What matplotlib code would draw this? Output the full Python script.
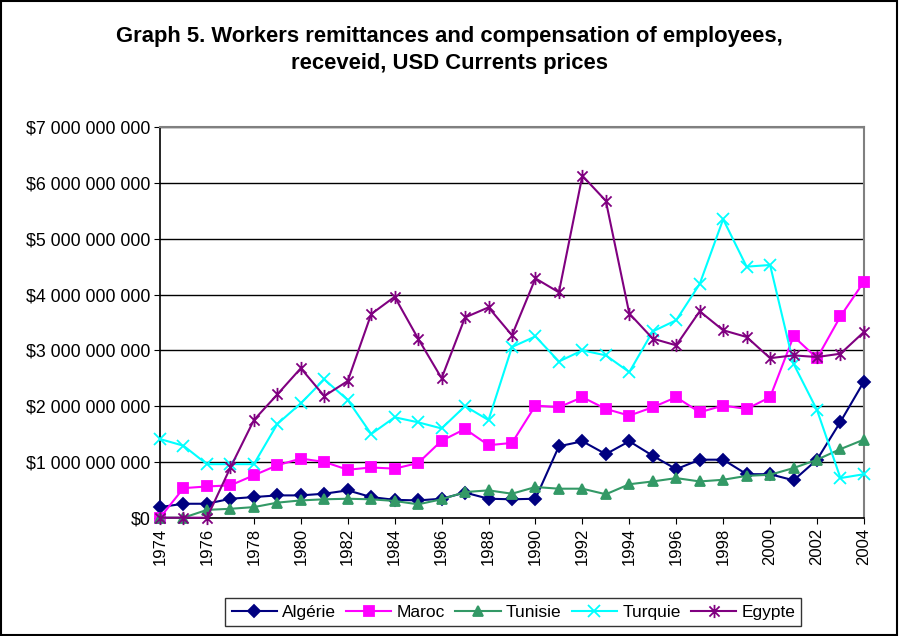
import numpy as np
import matplotlib
matplotlib.use("Agg")
import matplotlib.pyplot as plt
from matplotlib.path import Path
from matplotlib.patches import Rectangle
from matplotlib.ticker import FuncFormatter, MultipleLocator

plt.rcParams['font.family'] = ['Liberation Sans', 'DejaVu Sans']

# dados (bilhões de USD)
years = list(range(1974, 2005))

algerie = [0.19, 0.25, 0.25, 0.34, 0.37, 0.40, 0.40, 0.43, 0.49, 0.37,
           0.32, 0.31, 0.34, 0.45, 0.34, 0.33, 0.34, 1.28, 1.37, 1.14,
           1.37, 1.11, 0.87, 1.04, 1.04, 0.78, 0.78, 0.67, 1.04, 1.72, 2.44]
maroc = [0.0, 0.53, 0.56, 0.58, 0.76, 0.94, 1.06, 1.00, 0.86, 0.90,
         0.88, 0.98, 1.38, 1.59, 1.30, 1.34, 2.01, 1.98, 2.16, 1.95,
         1.83, 1.98, 2.16, 1.89, 2.01, 1.95, 2.16, 3.25, 2.86, 3.61, 4.23]
tunisie = [0.0, 0.0, 0.14, 0.16, 0.19, 0.27, 0.31, 0.33, 0.34, 0.33,
           0.30, 0.24, 0.33, 0.46, 0.49, 0.43, 0.55, 0.52, 0.52, 0.42,
           0.60, 0.65, 0.71, 0.65, 0.68, 0.75, 0.77, 0.89, 1.04, 1.23, 1.40]
turquie = [1.41, 1.29, 0.96, 0.96, 0.96, 1.68, 2.05, 2.48, 2.11, 1.50,
           1.80, 1.71, 1.60, 2.00, 1.75, 3.06, 3.25, 2.80, 3.00, 2.91,
           2.61, 3.34, 3.54, 4.19, 5.35, 4.50, 4.53, 2.76, 1.93, 0.71, 0.78]
egypte = [0.0, 0.0, 0.0, 0.90, 1.75, 2.21, 2.68, 2.18, 2.45, 3.65,
          3.96, 3.21, 2.50, 3.59, 3.77, 3.27, 4.29, 4.04, 6.13, 5.68,
          3.66, 3.21, 3.09, 3.70, 3.36, 3.24, 2.86, 2.91, 2.88, 2.94, 3.33]

# marcador asterisco estilo Excel
asterisk = Path([(-1, -1), (1, 1), (-1, 1), (1, -1), (0, -1.3), (0, 1.3)],
                [Path.MOVETO, Path.LINETO, Path.MOVETO, Path.LINETO,
                 Path.MOVETO, Path.LINETO])

series = [
    ("Algérie", algerie, "#000080", "D", 6.5),
    ("Maroc", maroc, "#FF00FF", "s", 7),
    ("Tunisie", tunisie, "#339966", "^", 7.5),
    ("Turquie", turquie, "#00FFFF", "x", 8.5),
    ("Egypte", egypte, "#800080", asterisk, 9.5),
]

fig = plt.figure(figsize=(8.99, 6.36), dpi=100)
ax = fig.add_axes([0.178, 0.186, 0.783, 0.614])

for name, vals, col, mk, ms in series:
    v = np.array(vals) * 1e9
    ax.plot(years, v, color=col, lw=1.5, marker=mk, markersize=ms,
            markerfacecolor=col, markeredgecolor=col, markeredgewidth=1.3,
            label=name, clip_on=False, zorder=3)

ax.set_xlim(1974, 2004)
ax.set_ylim(0, 7e9)
ax.xaxis.set_major_locator(MultipleLocator(2))
ax.yaxis.set_major_locator(MultipleLocator(1e9))
ax.yaxis.set_major_formatter(FuncFormatter(
    lambda v, p: "$0" if v == 0 else "$" + format(int(round(v)), ",").replace(",", " ")))
ax.grid(axis="y", color="black", lw=1)
ax.set_axisbelow(True)
plt.setp(ax.get_xticklabels(), rotation=90)
ax.tick_params(axis="x", labelsize=12, direction="out", length=4, color="black")
ax.tick_params(axis="y", labelsize=12.8, direction="out", length=4, color="black", pad=3)

for s in ["top", "right"]:
    ax.spines[s].set_color("#808080")
    ax.spines[s].set_linewidth(1.5)
for s in ["left", "bottom"]:
    ax.spines[s].set_color("black")
    ax.spines[s].set_linewidth(1.2)

fig.text(0.5, 0.943, "Graph 5. Workers remittances and compensation of employees,",
         ha="center", va="center", fontsize=15.8, fontweight="bold")
fig.text(0.5, 0.900, "receveid, USD Currents prices",
         ha="center", va="center", fontsize=15.8, fontweight="bold")

leg = fig.legend(loc="center", bbox_to_anchor=(0.571, 0.0375), ncol=5,
                 fontsize=12.5, frameon=True, fancybox=False, edgecolor="black",
                 handlelength=2.6, columnspacing=0.6, handletextpad=0.3,
                 borderpad=0.35)
leg.get_frame().set_linewidth(1)

fig.patches.append(Rectangle((0.001, 0.001), 0.997, 0.997, transform=fig.transFigure,
                             fill=False, edgecolor="black", lw=1.5))

plt.savefig("out.png", dpi=100)
